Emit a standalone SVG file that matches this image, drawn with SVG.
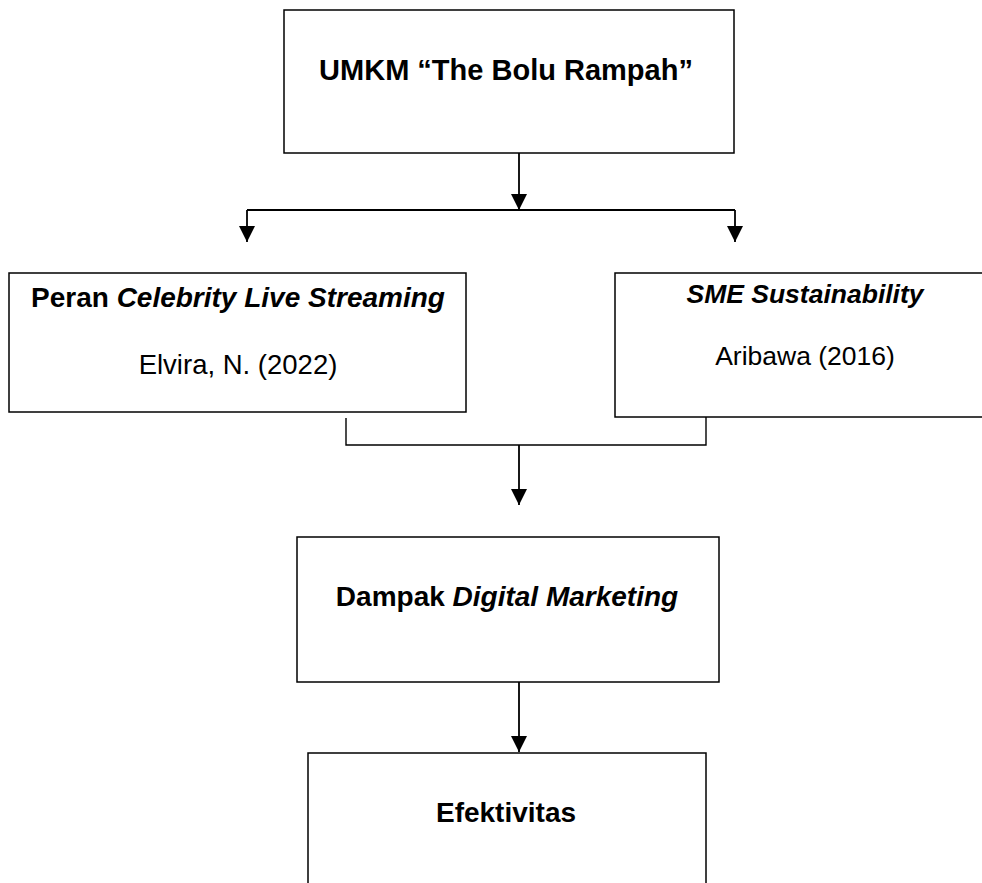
<svg xmlns="http://www.w3.org/2000/svg" width="982" height="883" viewBox="0 0 982 883">
<style>
.box{fill:#fff;stroke:#000;stroke-width:1.5}
.ln{fill:none;stroke:#000;stroke-width:1.8}
.br{fill:none;stroke:#000;stroke-width:1.4}
.t{font-family:"Liberation Sans",Arial,sans-serif;fill:#000;text-anchor:middle}
.b{font-weight:bold}
.i{font-style:italic}
</style>
<defs>
<marker id="ah" markerUnits="userSpaceOnUse" markerWidth="18" markerHeight="18" viewBox="0 0 18 18" refX="16" refY="9" orient="auto">
<path d="M0,1 L16,9 L0,17 Z" fill="#000"/>
</marker>
</defs>
<rect width="982" height="883" fill="#fff"/>
<g id="connectors">
<path class="ln" d="M519,153 V210" marker-end="url(#ah)"/>
<path class="ln" d="M247,210 H735"/>
<path class="ln" d="M247,210 V242" marker-end="url(#ah)"/>
<path class="ln" d="M735,210 V242" marker-end="url(#ah)"/>
<path class="br" d="M346,418 V445 H706 V417"/>
<path class="ln" d="M519,445 V505" marker-end="url(#ah)"/>
<path class="ln" d="M519,682 V752" marker-end="url(#ah)"/>
</g>
<g id="node-umkm">
<rect class="box" x="284" y="10" width="450" height="143"/>
<text class="t b" x="506" y="80" font-size="29">UMKM “The Bolu Rampah”</text>
</g>
<g id="node-celebrity">
<rect class="box" x="9" y="273" width="457" height="139"/>
<text class="t b" x="238" y="307" font-size="28">Peran <tspan class="i">Celebrity Live Streaming</tspan></text>
<text class="t" x="238" y="374" font-size="27.5">Elvira, N. (2022)</text>
</g>
<g id="node-sme">
<rect class="box" x="615" y="273" width="380" height="144"/>
<text class="t b i" x="805" y="303" font-size="26.5">SME Sustainability</text>
<text class="t" x="805" y="365" font-size="26.5">Aribawa (2016)</text>
</g>
<g id="node-dampak">
<rect class="box" x="297" y="537" width="422" height="145"/>
<text class="t b" x="507" y="606" font-size="28">Dampak <tspan class="i">Digital Marketing</tspan></text>
</g>
<g id="node-efektivitas">
<rect class="box" x="308" y="753" width="398" height="140"/>
<text class="t b" x="506" y="822" font-size="28">Efektivitas</text>
</g>
</svg>
